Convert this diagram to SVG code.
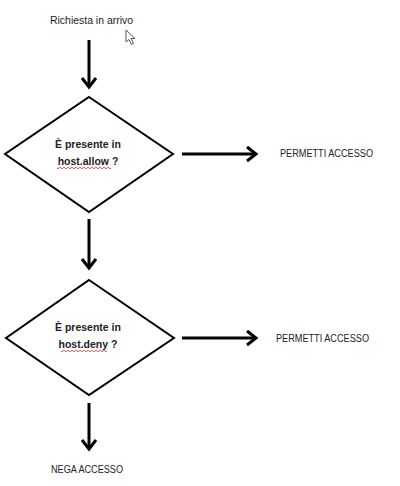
<svg xmlns="http://www.w3.org/2000/svg" width="400" height="486" viewBox="0 0 400 486">
<style>
text{font-family:"Liberation Sans","Open Sans",sans-serif;fill:#222;}
.lbl{font-size:10px;}
.q{font-size:10.5px;font-weight:bold;text-anchor:middle;}
.dia{fill:#fff;stroke:#000;stroke-width:2;}
.conn{fill:none;stroke:#000;stroke-width:3;marker-end:url(#ah);}
.sq{fill:none;stroke:#e03030;stroke-width:0.8;}
</style>
<defs>
<marker id="ah" markerUnits="userSpaceOnUse" markerWidth="20" markerHeight="20" viewBox="-12 -10 14 20" refX="0" refY="0" orient="auto">
<path d="M-9,-7 L0,0 L-9,7" fill="none" stroke="#000" stroke-width="3" stroke-linejoin="miter"/>
</marker>
</defs>
<rect width="400" height="486" fill="#fff"/>
<g id="connectors">
<path class="conn" d="M89,40 V87"/>
<path class="conn" d="M182,154 H256"/>
<path class="conn" d="M89,219 V268"/>
<path class="conn" d="M182,338 H256"/>
<path class="conn" d="M89,403 V449"/>
</g>
<g id="start">
<text class="lbl" x="50" y="24" textLength="83" lengthAdjust="spacingAndGlyphs">Richiesta in arrivo</text>
</g>
<g id="decision1">
<polygon class="dia" points="89,97 173,154 89,212 5,154"/>
<text class="q" x="88" y="148">È presente in</text>
<text class="q" x="88" y="165">host.allow ?</text>
<path class="sq" d="M57,168 q1,1.5 2,0 t2,0 t2,0 t2,0 t2,0 t2,0 t2,0 t2,0 t2,0 t2,0 t2,0 t2,0 t2,0 t2,0 t2,0 t2,0 t2,0 t2,0 t2,0 t2,0 t2,0 t2,0 t2,0 t2,0 t2,0 t2,0 t2,0"/>
</g>
<g id="allow1">
<text class="lbl" x="280" y="157" textLength="93" lengthAdjust="spacingAndGlyphs">PERMETTI ACCESSO</text>
</g>
<g id="decision2">
<polygon class="dia" points="89,280 174,338 89,395 6,338"/>
<text class="q" x="88" y="331">È presente in</text>
<text class="q" x="88" y="348">host.deny ?</text>
<path class="sq" d="M61,351 q1,1.5 2,0 t2,0 t2,0 t2,0 t2,0 t2,0 t2,0 t2,0 t2,0 t2,0 t2,0 t2,0 t2,0 t2,0 t2,0 t2,0 t2,0 t2,0 t2,0 t2,0 t2,0 t2,0 t2,0"/>
</g>
<g id="allow2">
<text class="lbl" x="276" y="342" textLength="93" lengthAdjust="spacingAndGlyphs">PERMETTI ACCESSO</text>
</g>
<g id="deny">
<text class="lbl" x="51" y="473" textLength="72" lengthAdjust="spacingAndGlyphs">NEGA ACCESSO</text>
</g>
<polygon points="126,30 126,42 129,39.5 131.5,44.5 133.5,43.5 131,38.5 135,38.5" fill="#fff" stroke="#555" stroke-width="1"/>
</svg>
